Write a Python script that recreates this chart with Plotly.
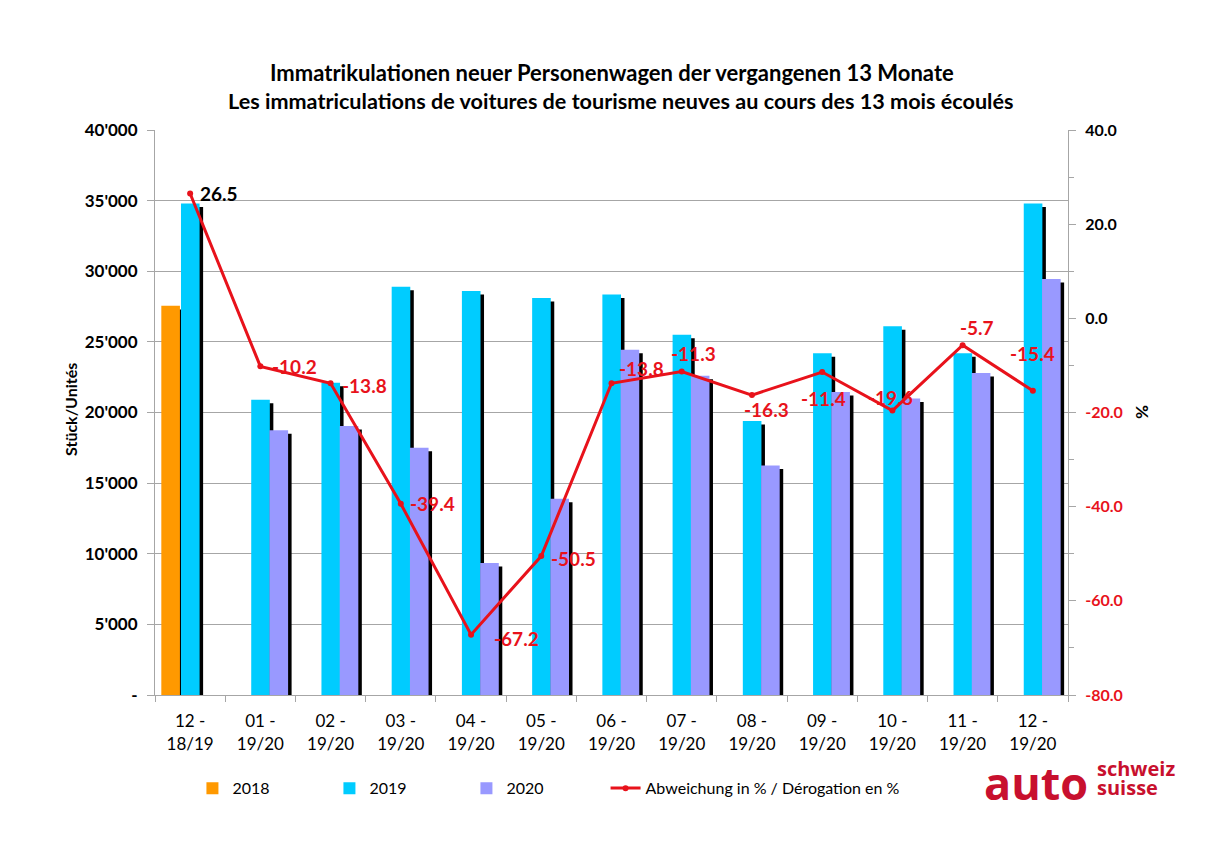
import plotly.graph_objects as go

categories = ["12 -<br>18/19", "01 -<br>19/20", "02 -<br>19/20", "03 -<br>19/20", "04 -<br>19/20",
              "05 -<br>19/20", "06 -<br>19/20", "07 -<br>19/20", "08 -<br>19/20", "09 -<br>19/20",
              "10 -<br>19/20", "11 -<br>19/20", "12 -<br>19/20"]
units_2018 = [27550, None, None, None, None, None, None, None, None, None, None, None, None]
units_2019 = [34800, 20900, 22100, 28900, 28600, 28100, 28350, 25500, 19400, 24200, 26100, 24200, 34800]
units_2020 = [None, 18750, 19050, 17500, 9350, 13900, 24450, 22600, 16250, 21450, 21000, 22800, 29450]
deviation_pct = [26.5, -10.2, -13.8, -39.4, -67.2, -50.5, -13.8, -11.3, -16.3, -11.4, -19.6, -5.7, -15.4]

left_tickvals = [0, 5000, 10000, 15000, 20000, 25000, 30000, 35000, 40000]
left_ticktext = ["-", "5'000", "10'000", "15'000", "20'000", "25'000", "30'000", "35'000", "40'000"]
right_tickvals = [-80, -60, -40, -20, 0, 20, 40]
right_ticktext = ["-80.0", "-60.0", "-40.0", "-20.0", "0.0", "20.0", "40.0"]

# label placement (pixel shift of each data label from its point) - styling only
label_dx = [29, 34, 34, 32, 45, 32, 30, 12, 15, 1, -2, 14, 0]
label_dy = [0, 0, -2, 0, -4, -2, 15, 18, -14, -26, 13, 18, 37]

FONT = "Lato"
ORANGE = "#FF9900"
CYAN = "#00CCFF"
PURPLE = "#9999FF"
RED = "#E8121B"
GRID = "#A6A6A6"

series = [("2018", units_2018, ORANGE, -0.41),
          ("2019", units_2019, CYAN, -0.13),
          ("2020", units_2020, PURPLE, 0.13)]
BAR_W = 0.265
SH_DX = 0.05
SH_DY = 250

fig = go.Figure()

# 3D-like shadows first
for name, vals, col, off in series:
    sh = [None if v is None else v - SH_DY for v in vals]
    fig.add_trace(go.Bar(x=categories, y=sh, offset=off + SH_DX, width=BAR_W,
                         marker=dict(color="black", line=dict(width=0)),
                         showlegend=False, hoverinfo="skip"))
for name, vals, col, off in series:
    fig.add_trace(go.Bar(x=categories, y=vals, offset=off, width=BAR_W, name=name,
                         marker=dict(color=col, line=dict(width=0))))

fig.add_trace(go.Scatter(
    x=categories, y=deviation_pct, yaxis="y2", name="Abweichung in % / Dérogation en %",
    mode="lines+markers", legend="legend2",
    line=dict(color=RED, width=3), marker=dict(color=RED, size=6),
    cliponaxis=False,
))

for c, v, dx, dy in zip(categories, deviation_pct, label_dx, label_dy):
    fig.add_annotation(x=c, y=v, xref="x", yref="y2", text="<b>%.1f</b>" % v,
                       xshift=dx, yshift=dy, showarrow=False, xanchor="center", yanchor="middle",
                       font=dict(family=FONT, size=19, color=("black" if v >= 0 else RED)))

right_ticktext_col = ['<span style="color:%s">%s</span>' % (RED if v < 0 else "black", t)
                      for v, t in zip(right_tickvals, right_ticktext)]

# page body has an 8px default margin: plot area lands at x 155..1068, y 130..695
fig.update_layout(
    width=1207, height=846,
    margin=dict(l=147, r=147, t=122, b=159, autoexpand=False),
    paper_bgcolor="white", plot_bgcolor="white",
    barmode="overlay",
    font=dict(family=FONT, color="black"),
    xaxis=dict(type="category", showline=True, linecolor=GRID, linewidth=1,
               ticks="outside", tickson="boundaries", ticklen=6, tickcolor=GRID,
               tickfont=dict(size=17), showgrid=False, range=[-0.5, 12.5],
               automargin=False, ticklabelstandoff=11),
    yaxis=dict(range=[0, 40000], tickvals=left_tickvals, ticktext=left_ticktext,
               showline=True, linecolor=GRID, linewidth=1, ticks="outside", ticklen=7,
               tickcolor=GRID, showgrid=True, gridcolor=GRID, gridwidth=1,
               tickfont=dict(size=17, weight="bold"), zeroline=False,
               automargin=False, ticklabelstandoff=6),
    yaxis2=dict(range=[-80, 40], overlaying="y", side="right", tickvals=right_tickvals,
                ticktext=right_ticktext_col, showline=True, linecolor=GRID, linewidth=1,
                ticks="outside", ticklen=7, tickcolor=GRID, showgrid=False, zeroline=False,
                tickfont=dict(size=16, weight="bold"), automargin=False, ticklabelstandoff=6,
                minor=dict(dtick=10, tick0=0, ticks="outside", ticklen=5, tickcolor=GRID, showgrid=False)),
    legend=dict(orientation="h", x=0.041, y=-0.165, xanchor="left", yanchor="middle",
                entrywidth=92, entrywidthmode="pixels", font=dict(size=16),
                traceorder="normal", itemsizing="constant"),
    legend2=dict(orientation="h", x=0.4935, y=-0.165, xanchor="left", yanchor="middle",
                 font=dict(size=16)),
    showlegend=True,
)

fig.add_annotation(text="<b>Immatrikulationen neuer Personenwagen der vergangenen 13 Monate</b>",
                   xref="paper", yref="paper", x=(612 - 155) / 913, y=(695 - 73) / 565,
                   xanchor="center", yanchor="middle",
                   showarrow=False, font=dict(size=22, family=FONT))
fig.add_annotation(text="<b>Les immatriculations de voitures de tourisme neuves au cours des 13 mois écoulés</b>",
                   xref="paper", yref="paper", x=(620 - 155) / 913, y=(695 - 101) / 565,
                   xanchor="center", yanchor="middle",
                   showarrow=False, font=dict(size=21.6, family=FONT))
fig.add_annotation(text="<b>Stück/Unités</b>", xref="paper", yref="paper",
                   x=(70 - 155) / 913, y=(695 - 410) / 565, textangle=-90, xanchor="center", yanchor="middle",
                   showarrow=False, font=dict(size=16, family=FONT))
fig.add_annotation(text="<b>%</b>", xref="paper", yref="paper",
                   x=(1143 - 155) / 913, y=(695 - 412) / 565, textangle=90, xanchor="center", yanchor="middle",
                   showarrow=False, font=dict(size=17, family=FONT))
LOGO = "#C8102E"
fig.add_annotation(text="<b>auto</b>", xref="paper", yref="paper",
                   x=(982 - 155) / 913, y=(695 - 783) / 565, xanchor="left", yanchor="middle",
                   showarrow=False, font=dict(size=45, family="Open Sans", color=LOGO))
fig.add_annotation(text="<b>schweiz</b>", xref="paper", yref="paper",
                   x=(1095 - 155) / 913, y=(695 - 768) / 565, xanchor="left", yanchor="middle",
                   showarrow=False, font=dict(size=20, family="Open Sans", color=LOGO))
fig.add_annotation(text="<b>suisse</b>", xref="paper", yref="paper",
                   x=(1095 - 155) / 913, y=(695 - 787) / 565, xanchor="left", yanchor="middle",
                   showarrow=False, font=dict(size=20, family="Open Sans", color=LOGO))

fig.write_html("out.html")
